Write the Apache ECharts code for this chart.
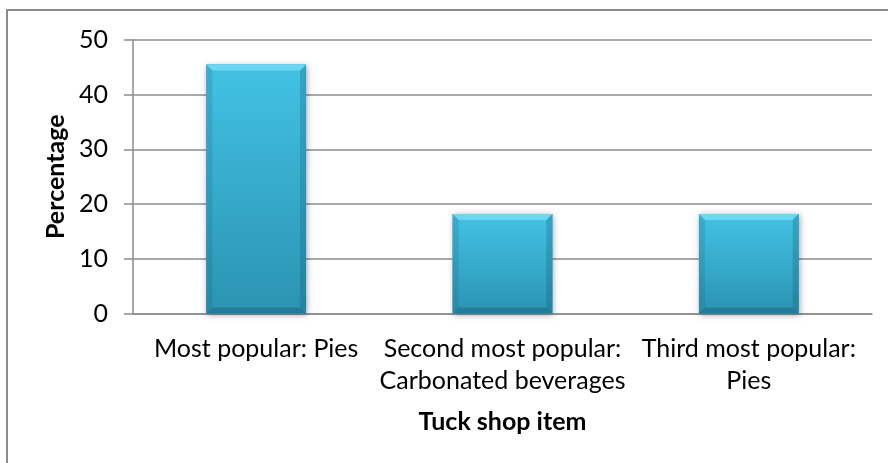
<!DOCTYPE html>
<html>
<head>
<meta charset="utf-8">
<script src="https://cdn.jsdelivr.net/npm/echarts@6/dist/echarts.min.js"></script>
<style>
  html, body { margin: 0; padding: 0; background: #fff; }
  #chart { width: 888px; height: 463px; }
</style>
</head>
<body>
<div id="chart"></div>
<script>
// Tuck shop survey: share of learners naming each item
const categories = [
  'Most popular: Pies',
  'Second most popular:\nCarbonated beverages',
  'Third most popular:\nPies'
];
const percentages = [45.5, 18.2, 18.2];
const yTicks = { min: 0, max: 50, interval: 10 };

const FONT = 'Lato, "Open Sans", sans-serif';
const AXIS_GREY = '#8c8c8c';

// Bevelled column: gradient body, light top chamfer, darker sides/bottom
function renderBevelBar(params, api) {
  const idx = api.value(0);
  const top = api.coord([idx, api.value(1)]);
  const base = api.coord([idx, 0]);
  const band = api.size([1, 0])[0];
  const w = band * 0.405;
  const L = top[0] - w / 2, R = top[0] + w / 2;
  const T = top[1], B = base[1];
  const b = 6;
  return {
    type: 'group',
    children: [
      {
        type: 'rect',
        shape: { x: L, y: T, width: w, height: B - T },
        style: {
          fill: '#36aacb',
          shadowBlur: 6, shadowColor: 'rgba(0,0,0,0.35)', shadowOffsetX: 1, shadowOffsetY: 1
        }
      },
      {
        type: 'rect',
        shape: { x: L, y: T, width: w, height: B - T },
        style: {
          fill: new echarts.graphic.LinearGradient(0, 0, 0, 1, [
            { offset: 0, color: '#42c2e4' },
            { offset: 1, color: '#2b93b2' }
          ])
        }
      },
      {
        type: 'polygon',
        shape: { points: [[L, T], [R, T], [R - b, T + b], [L + b, T + b]] },
        style: { fill: '#6dd7f2' }
      },
      {
        type: 'polygon',
        shape: { points: [[L, T], [L + b, T + b], [L + b, B - b], [L, B]] },
        style: { fill: 'rgba(20,90,115,0.18)' }
      },
      {
        type: 'polygon',
        shape: { points: [[R, T], [R - b, T + b], [R - b, B - b], [R, B]] },
        style: { fill: 'rgba(20,90,115,0.28)' }
      },
      {
        type: 'polygon',
        shape: { points: [[L, B], [L + b, B - b], [R - b, B - b], [R, B]] },
        style: { fill: 'rgba(20,80,105,0.35)' }
      }
    ]
  };
}

const chart = echarts.init(document.getElementById('chart'), null, { renderer: 'canvas' });
chart.setOption({
  animation: false,
  backgroundColor: '#ffffff',
  textStyle: { fontFamily: FONT },
  graphic: [{
    type: 'rect',
    shape: { x: 7, y: 10, width: 1000, height: 1000 },
    style: { fill: 'none', stroke: AXIS_GREY, lineWidth: 2 },
    silent: true
  }],
  grid: { left: 133, right: 16, top: 40, bottom: 149.5 },
  xAxis: {
    type: 'category',
    data: categories,
    name: 'Tuck shop item',
    nameLocation: 'middle',
    nameGap: 96,
    nameTextStyle: { fontFamily: FONT, fontSize: 25, fontWeight: 'bold', color: '#000' },
    axisLine: { show: true, lineStyle: { color: AXIS_GREY, width: 1.5 } },
    axisTick: { show: false },
    axisLabel: {
      interval: 0, fontFamily: FONT, fontSize: 25, lineHeight: 32.5, color: '#000', margin: 19
    }
  },
  yAxis: {
    type: 'value',
    min: yTicks.min, max: yTicks.max, interval: yTicks.interval,
    name: 'Percentage',
    nameLocation: 'middle',
    nameGap: 61,
    nameTextStyle: { fontFamily: FONT, fontSize: 25, fontWeight: 'bold', color: '#000' },
    axisLine: { show: true, lineStyle: { color: AXIS_GREY, width: 1.5 } },
    axisTick: { show: true, length: 9, lineStyle: { color: AXIS_GREY, width: 1.5 } },
    splitLine: { show: true, lineStyle: { color: AXIS_GREY, width: 1.5 } },
    axisLabel: { fontFamily: FONT, fontSize: 25, color: '#000', margin: 25 }
  },
  series: [{
    type: 'custom',
    renderItem: renderBevelBar,
    encode: { x: 0, y: 1 },
    data: percentages.map((v, i) => [i, v]),
    z: 3
  }]
});
</script>
</body>
</html>
